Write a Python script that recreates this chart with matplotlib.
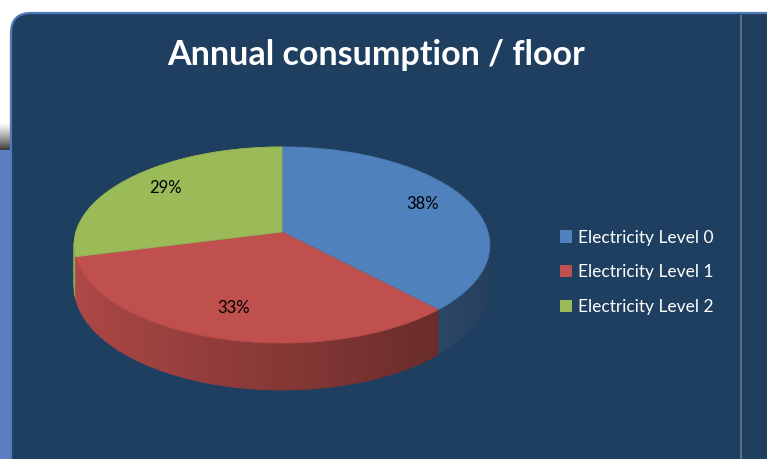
import numpy as np
import matplotlib
matplotlib.use('Agg')
import matplotlib.pyplot as plt
from matplotlib.patches import Polygon, Rectangle, FancyBboxPatch, Patch
from matplotlib.colors import to_rgb

TITLE = 'Annual consumption / floor'
CATEGORIES = ['Electricity Level 0', 'Electricity Level 1', 'Electricity Level 2']
SHARES = [38, 33, 29]
COLORS = ['#4F81BD', '#C0504D', '#9BBB59']

W, H = 767, 459
BG = '#1F3F61'

# pie projection (pixels)
CX, CY = 282, 232
SX, SY = 206, 96.3
K = 0.1327
THICK = 40.7


def project(phi, r=1.0, drop=0.0):
    # phi measured clockwise from the top of the disk
    x = r * np.sin(phi)
    y = -r * np.cos(phi)
    w = 1 - K * y
    return CX + SX * x / w, CY + SY * y / w + drop / w


def shade(color, f):
    return tuple(min(1, c * f) for c in to_rgb(color))


fig = plt.figure(figsize=(W / 100, H / 100), dpi=100)
fig.patch.set_facecolor('white')
ax = fig.add_axes([0, 0, 1, 1])
ax.set_xlim(0, W)
ax.set_ylim(H, 0)
ax.axis('off')

# slide background bits
ax.add_patch(Rectangle((0, 150), 10, H - 150, color='#5E7DC2', zorder=0))
for i in range(28):
    g = 1 - (i / 28) ** 1.2 * 0.8
    ax.add_patch(Rectangle((0, 122 + i), 10, 1, color=(g, g, g), lw=0, zorder=0))
ax.add_patch(FancyBboxPatch((11, 13), W + 10, H + 5, boxstyle='round,pad=0,rounding_size=20',
                            facecolor=BG, edgecolor='#5079BC', lw=1.6, zorder=1))
ax.plot([741, 741], [16, H], color='#5C6C82', lw=1.5, zorder=2)

# slice angles
fracs = np.array(SHARES, dtype=float) / sum(SHARES)
edges = np.concatenate([[0], np.cumsum(fracs)]) * 2 * np.pi

# side walls, back to front
quads = []
for i, col in enumerate(COLORS):
    phis = np.linspace(edges[i], edges[i + 1], 80)
    for a, b in zip(phis[:-1], phis[1:]):
        xa, ya = project(a)
        xb, yb = project(b)
        xa2, ya2 = project(a, drop=THICK)
        xb2, yb2 = project(b, drop=THICK)
        xm = np.sin((a + b) / 2)
        depth = -np.cos((a + b) / 2)
        f = 0.92 - 0.22 * (xm + 1)
        c = shade(col, f)
        quads.append((depth, [(xa, ya), (xb, yb), (xb2, yb2), (xa2, ya2)], c))
quads.sort(key=lambda q: q[0])
for depth, pts, c in quads:
    ax.add_patch(Polygon(pts, closed=True, facecolor=c, edgecolor=c, lw=0.6, zorder=3))

# top faces
for i, col in enumerate(COLORS):
    phis = np.linspace(edges[i], edges[i + 1], 120)
    px, py = project(phis)
    pts = [(CX, CY)] + list(zip(px, py))
    ax.add_patch(Polygon(pts, closed=True, facecolor=col, edgecolor=shade(col, 0.95),
                         lw=0.6, zorder=4))

# data labels
for i, share in enumerate(SHARES):
    mid = (edges[i] + edges[i + 1]) / 2
    lx, ly = project(mid, r=0.76)
    ax.text(lx, ly - 2, f'{share}%', ha='center', va='center', fontsize=12,
            family='Lato', color='black', zorder=5)

ax.text(376, 55, TITLE, ha='center', va='center', fontsize=24.5, fontweight='bold',
        family='Lato', color='white', zorder=5)

handles = [Patch(facecolor=c, edgecolor='none') for c in COLORS]
leg = ax.legend(handles, CATEGORIES, loc='upper left', bbox_to_anchor=(544 / W, 1 - 214 / H),
                frameon=False, prop={'family': 'Lato', 'size': 12.5}, labelcolor='white',
                handlelength=0.7, handleheight=0.7, handletextpad=0.35, labelspacing=1.07)
leg.set_zorder(6)

fig.savefig('out.png', dpi=100, facecolor=fig.get_facecolor())
